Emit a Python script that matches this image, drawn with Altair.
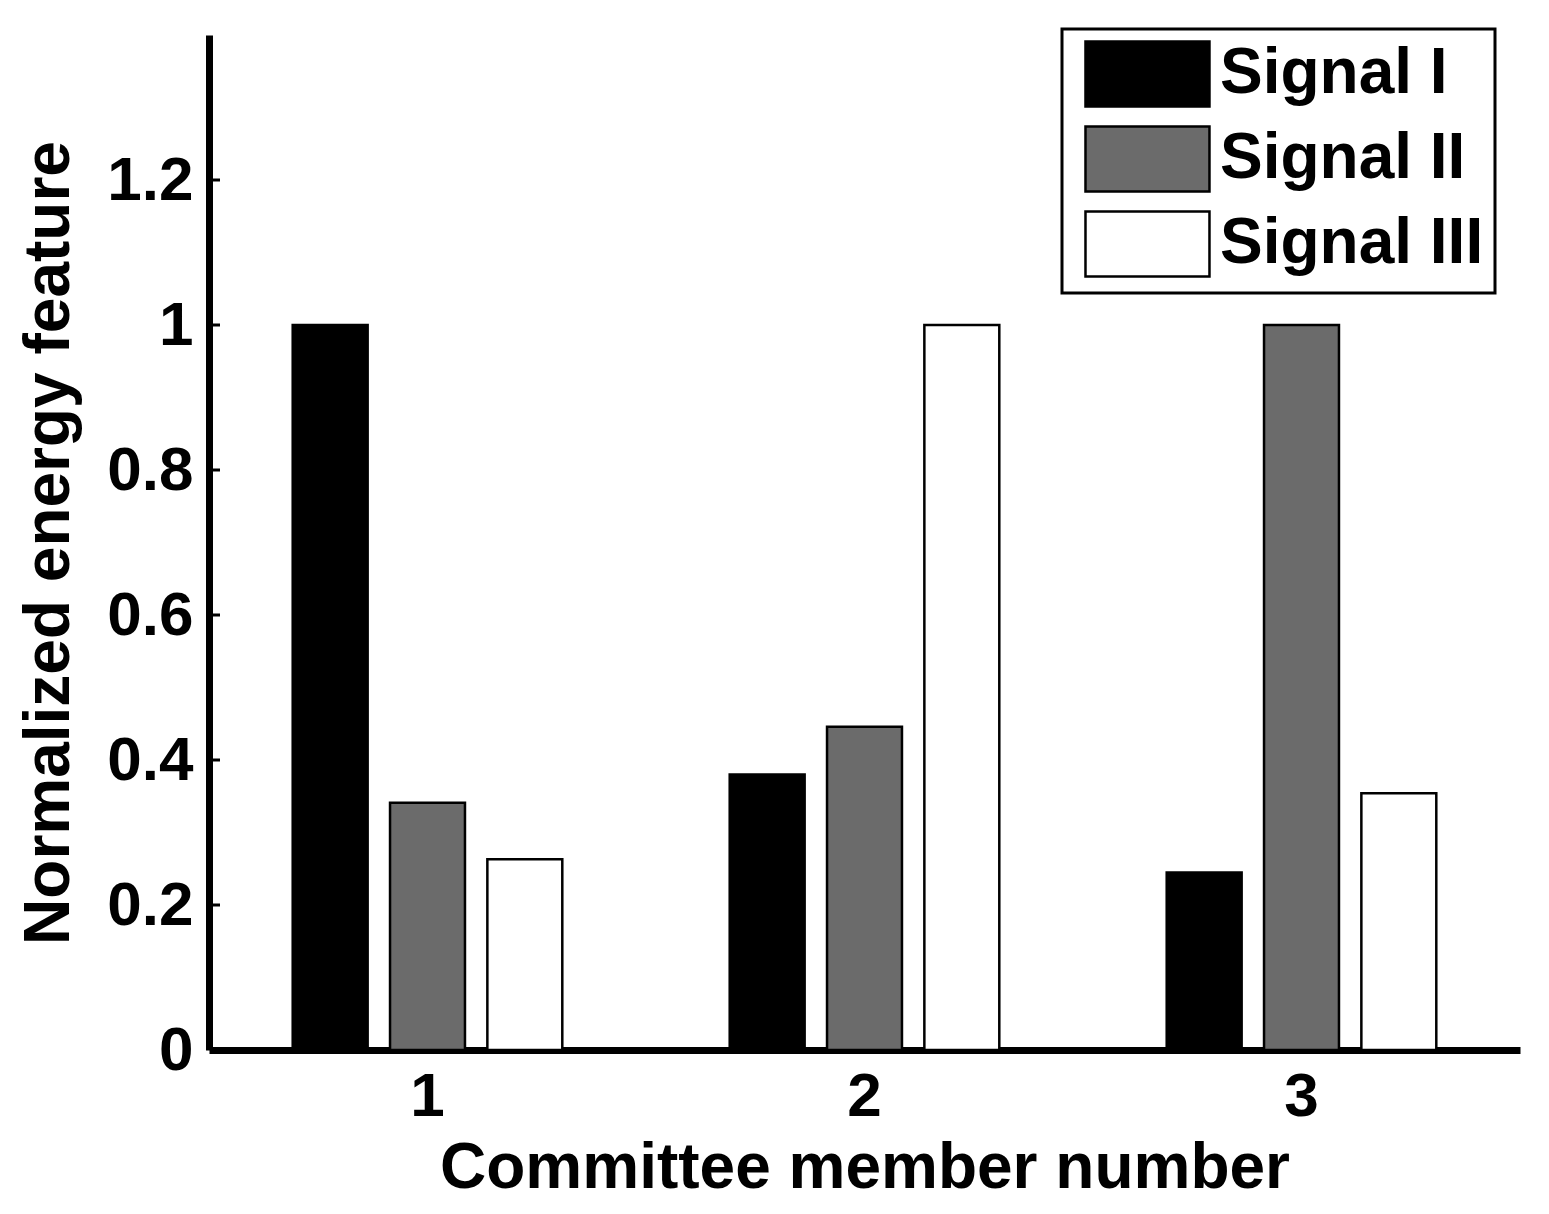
import altair as alt
import pandas as pd

members = ["1", "2", "3"]
signals = ["Signal I", "Signal II", "Signal III"]
signal_i = [1.0, 0.38, 0.245]
signal_ii = [0.341, 0.446, 1.0]
signal_iii = [0.263, 1.0, 0.354]
colors = ["#000000", "#6b6b6b", "#ffffff"]
y_ticks = [0, 0.2, 0.4, 0.6, 0.8, 1.0, 1.2]

rows = []
for name, vals in zip(signals, [signal_i, signal_ii, signal_iii]):
    for m, v in zip(members, vals):
        rows.append({"member": m, "signal": name, "value": v})
df = pd.DataFrame(rows)
ticks_df = pd.DataFrame({"v": y_ticks[1:]})

FONT = "Liberation Sans"

bars = alt.Chart(df).mark_bar(stroke="black", strokeWidth=2.5, opacity=1).encode(
    x=alt.X(
        "member:O",
        scale=alt.Scale(paddingInner=0, paddingOuter=0),
        axis=alt.Axis(
            title="Committee member number",
            labelAngle=0,
            ticks=False,
            tickSize=0,
            labelPadding=16,
            titlePadding=9,
        ),
    ),
    xOffset=alt.XOffset(
        "signal:N",
        sort=signals,
        scale=alt.Scale(paddingInner=0.23, paddingOuter=0.86),
    ),
    y=alt.Y(
        "value:Q",
        scale=alt.Scale(domain=[0, 1.4], nice=False),
        axis=alt.Axis(
            title="Normalized energy feature",
            values=y_ticks,
            format="~g",
            ticks=False,
            tickSize=0,
            labelPadding=16,
            titlePadding=25,
            grid=False,
        ),
    ),
    color=alt.Color(
        "signal:N",
        sort=signals,
        scale=alt.Scale(domain=signals, range=colors),
        legend=alt.Legend(
            title=None,
            orient="none",
            legendX=853,
            legendY=-6,
            symbolType="M-0.662,-1H3.153V1H-0.662Z",
            symbolSize=4225,
            symbolStrokeColor="black",
            symbolStrokeWidth=2.5,
            symbolOpacity=1,
            labelOffset=79,
            labelLimit=0,
            rowPadding=9,
            padding=11,
            strokeColor="black",
            fillColor="white",
        ),
    ),
)

yticks = alt.Chart(ticks_df).mark_rule(color="black", strokeWidth=3).encode(
    y=alt.Y("v:Q"),
    x=alt.value(0),
    x2=alt.value(11),
)

chart = (
    alt.layer(bars, yticks)
    .properties(
        width=1311,
        height=1015,
        autosize=alt.AutoSizeParams(type="none"),
        padding={"left": 201, "top": 27, "right": 21, "bottom": 150},
    )
    .configure_view(stroke=None)
    .configure_axis(
        domainColor="black",
        domainWidth=7,
        labelFont=FONT,
        labelFontSize=62,
        labelFontWeight="bold",
        labelColor="black",
        titleFont=FONT,
        titleFontSize=64,
        titleFontWeight="bold",
        titleColor="black",
    )
    .configure_legend(
        labelFont=FONT,
        labelFontSize=64,
        labelFontWeight="bold",
        labelColor="black",
        strokeWidth=3,
    )
)

chart.save("out.html", embed_options={"renderer": "svg", "actions": False})
